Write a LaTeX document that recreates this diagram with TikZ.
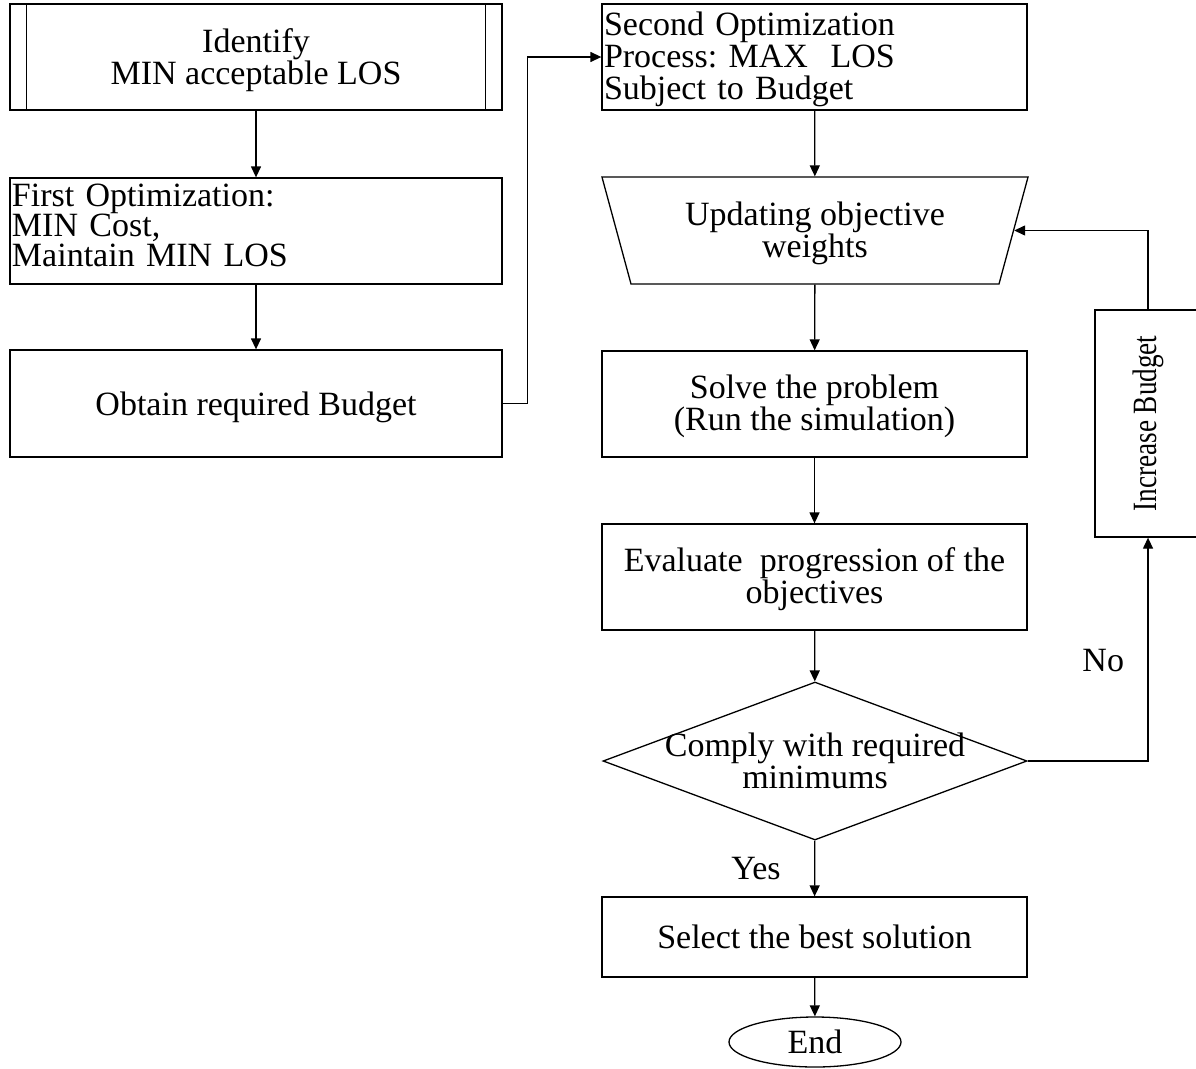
\documentclass[tikz,border=0pt]{standalone}
\usepackage{fontspec}
\setmainfont{Liberation Serif}
\usepackage{graphicx}
\usetikzlibrary{shapes.geometric,arrows.meta}
% struts that nudge multi-line text inside its frame
\newcommand{\upstrut}[1]{\rule{0pt}{#1}}
\newcommand{\downstrut}[1]{\rule[-#1]{0pt}{0pt}}
\begin{document}
\frenchspacing
\begin{tikzpicture}[x=1pt,y=-1pt,
  line width=1.3pt,
  every node/.style={font=\fontsize{34}{32}\selectfont},
  boxc/.style={draw,rectangle,inner sep=0pt,align=center},
  boxl/.style={draw,rectangle,inner xsep=2pt,inner ysep=0pt,align=left,
    text width=#1},
  arr/.style={-{Triangle[length=11pt,width=10pt]}},
]
\useasboundingbox (0,0) rectangle (1196,1068);

% left column
\node[boxc,minimum width=492,minimum height=106,
  font=\fontsize{34}{30}\selectfont] (ident) at (256,57)
  {\upstrut{31pt}Identify\\MIN acceptable LOS};
\draw ([xshift=17pt]ident.north west) -- ([xshift=17pt]ident.south west);
\draw ([xshift=-17pt]ident.north east) -- ([xshift=-17pt]ident.south east);

\node[boxl=488pt,minimum width=492,minimum height=106,
  font=\fontsize{34}{30}\selectfont] (first) at (256,231)
  {First Optimization:\\MIN Cost,\\Maintain MIN LOS\downstrut{12pt}};

\node[boxc,minimum width=492,minimum height=107] (budget) at (256,403.5)
  {\upstrut{31pt}Obtain required Budget};

% right column
\node[boxl=421pt,minimum width=425,minimum height=106] (second) at (814.5,57)
  {\upstrut{29pt}Second Optimization\\Process: MAX\ \ LOS\\Subject to Budget};

\node[draw,trapezium,shape border rotate=180,trapezium stretches=true,
  trapezium left angle=73.3,trapezium right angle=73.3,
  minimum width=428,minimum height=107,inner sep=0pt,align=center]
  (weights) at (815,230.5) {\upstrut{29pt}Updating objective\\weights};

\node[boxc,minimum width=425,minimum height=106] (solve) at (814.5,404)
  {\upstrut{29pt}Solve the problem\\(Run the simulation)};

\node[boxc,minimum width=425,minimum height=106] (eval) at (814.5,577)
  {\upstrut{29pt}Evaluate\ \ progression of the\\objectives};

\node[draw,diamond,minimum width=424,minimum height=158,inner sep=0pt,
  label={[align=center]center:{Comply with required\\minimums}}]
  (comply) at (815,761) {};

\node[boxc,minimum width=425,minimum height=80] (select) at (814.5,937)
  {Select the best solution};

\node[draw,ellipse,minimum width=172,minimum height=50,inner sep=0pt]
  (end) at (815,1042) {End};

\node[draw,rectangle,minimum width=106,minimum height=227,inner sep=0pt]
  (incr) at (1148,423.5)
  {\rotatebox{90}{\fontsize{34}{34}\selectfont\scalebox{0.8}[1]{Increase Budget}}};

% connectors
\draw[arr] (ident) -- (first);
\draw[arr] (first) -- (budget);
\draw[arr] (budget.east) -- ++(25,0) |- (second.west);
\draw[arr] (second) -- (weights);
\draw[arr] (weights) -- (solve);
\draw[arr] (solve) -- (eval);
\draw[arr] (eval) -- (comply);
\draw[arr] (comply) -- node[pos=0.5,left=30pt] (yes) {Yes} (select);
\draw[arr] (select) -- (end);
\draw[arr] (comply.east) -| node[pos=0.725,left=20pt] (no) {No} (incr.south);
\draw[arr] (incr.north) |- (weights.east);
\end{tikzpicture}
\end{document}
